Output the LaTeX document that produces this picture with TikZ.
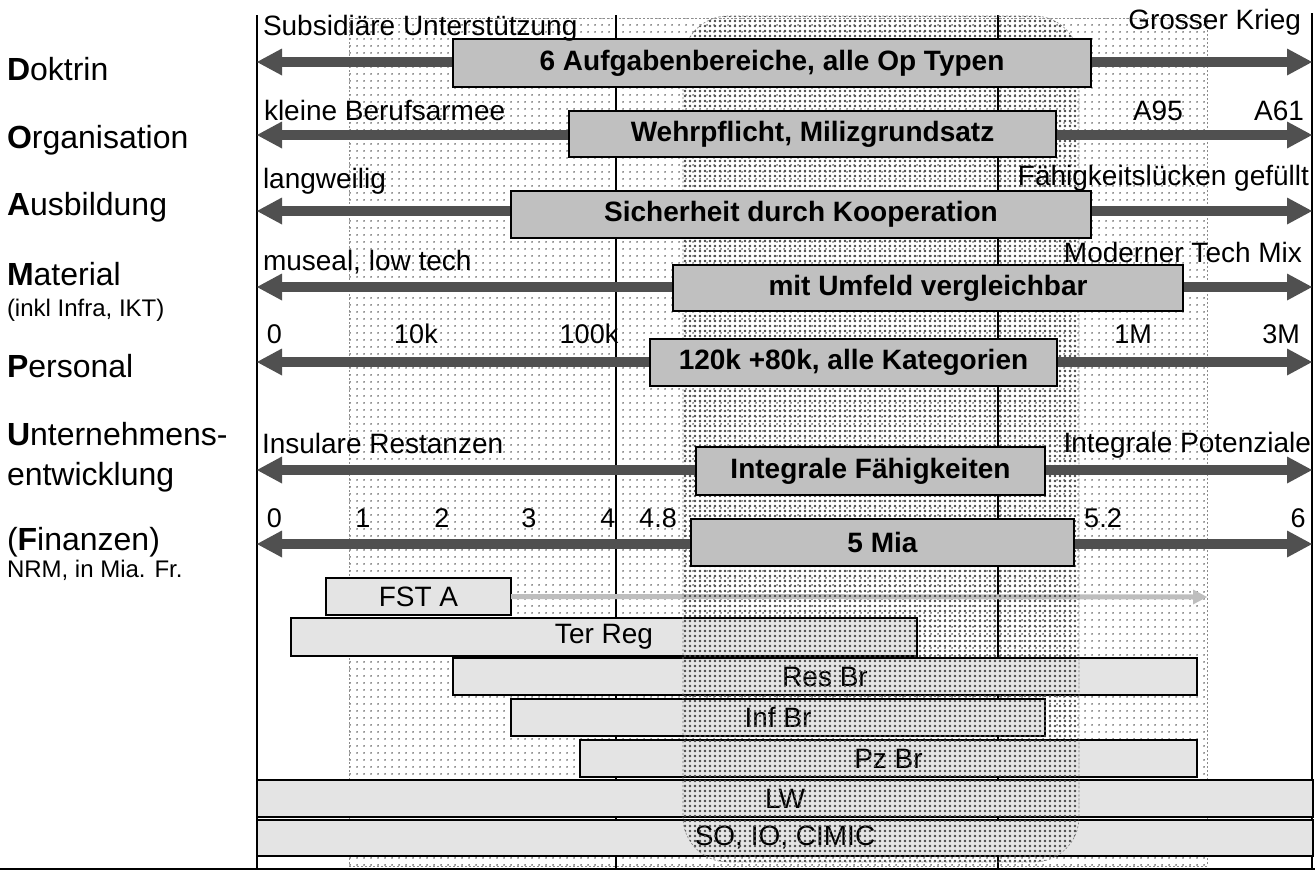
\documentclass[tikz,border=0pt]{standalone}
\usepackage{fontspec}
\setmainfont{Liberation Sans}
\usetikzlibrary{arrows.meta,patterns.meta}
\definecolor{arrowgray}{HTML}{505050}
\definecolor{boxgray}{HTML}{C0C0C0}
\definecolor{barfill}{HTML}{E4E4E4}
\definecolor{faintarrow}{HTML}{BEBEBE}
\newcommand{\sidefont}{\fontsize{32pt}{36pt}\selectfont}
\newcommand{\subfont}{\fontsize{24pt}{28pt}\selectfont}
\newcommand{\labfont}{\fontsize{28pt}{32pt}\selectfont}
\newcommand{\numfont}{\fontsize{27pt}{30pt}\selectfont}
\newcommand{\boxfont}{\fontsize{28pt}{32pt}\selectfont\bfseries}
\begin{document}
\begin{tikzpicture}[x=1pt,y=-1pt,
  every node/.style={inner sep=0pt, outer sep=0pt},
  sidelab/.style={anchor=base west, font=\sidefont},
  sublab/.style={anchor=base west, font=\subfont},
  endlab/.style={font=\labfont},
  numlab/.style={anchor=base, font=\numfont},
  upbox/.style={draw=black, line width=2pt, fill=boxgray, font=\boxfont, anchor=north west},
  bar/.style={draw=black, line width=1.8pt, fill=barfill, font=\labfont, anchor=north west},
  bigarrow/.style={draw=arrowgray, line width=10pt, {Triangle[length=25pt,width=27pt,line width=0pt]}-{Triangle[length=25pt,width=27pt,line width=0pt]}},
  fstarrow/.style={draw=faintarrow, line width=5pt, -{Triangle[length=14pt,width=15pt,line width=0pt]}},
  frameline/.style={line width=1.5pt, draw=black},
  lightzone/.style={pattern={Dots[distance=6.5pt,radius=1.05pt]}, pattern color=black!60, draw=black!45, line width=0.6pt, dash pattern=on 2pt off 2pt},
  densezone/.style={pattern={Dots[distance=5pt,radius=1.35pt]}, pattern color=black!72, draw=black!50, line width=0.6pt, dash pattern=on 2pt off 2pt, rounded corners=45pt},
]
\useasboundingbox (0,0) rectangle (1315,871);

% background zones
\path[lightzone] (349,18) rectangle (1207,866);

% frame lines
\coordinate (ltop) at (257,15);  \coordinate (lbot) at (257,869);
\coordinate (rtop) at (1312,13); \coordinate (rbot) at (1312,869);
\coordinate (mtop) at (616,15);  \coordinate (mbot) at (616,869);
\coordinate (ntop) at (998,15);  \coordinate (nbot) at (998,869);
\coordinate (bl) at (0,869);     \coordinate (br) at (1315,869);
\draw[frameline] (ltop) -- (lbot);
\draw[frameline] (rtop) -- (rbot);
\draw[frameline] (mtop) -- (mbot);
\draw[frameline] (ntop) -- (nbot);
\draw[frameline] (bl) -- (br);

% lower bars
\node[bar, minimum width=185pt, minimum height=37pt] (fst) at (326,578) {FST A};
\node[bar, minimum width=626pt, minimum height=38pt] (ter) at (291,618) {Ter Reg};
\node[bar, minimum width=744pt, minimum height=37pt] (res) at (453,658) {Res Br};
\node[bar, minimum width=534pt, minimum height=37pt] (inf) at (511,699) {Inf Br};
\node[bar, minimum width=617pt, minimum height=37pt] (pz) at (580,740) {Pz Br};
\node[bar, minimum width=1056pt, minimum height=37pt] (lw) at (257,780) {LW};
\node[bar, minimum width=1056pt, minimum height=36pt] (so) at (257,820) {SO, IO, CIMIC};
\coordinate (fstend) at (1207,597);
\draw[fstarrow] (fst.east) -- (fstend);

% dense zone
\path[densezone] (683,16) rectangle (1079,862);

% arrows
\coordinate (dl) at (257,62);  \coordinate (dr) at (1312,62);
\coordinate (ol) at (257,135); \coordinate (or) at (1312,135);
\coordinate (al) at (257,211); \coordinate (ar) at (1312,211);
\coordinate (ml) at (257,287); \coordinate (mr) at (1312,287);
\coordinate (pl) at (257,362); \coordinate (pr) at (1312,362);
\coordinate (ul) at (257,470); \coordinate (ur) at (1312,470);
\coordinate (fl) at (257,544); \coordinate (fr) at (1312,544);
\draw[bigarrow] (dl) -- (dr);
\draw[bigarrow] (ol) -- (or);
\draw[bigarrow] (al) -- (ar);
\draw[bigarrow] (ml) -- (mr);
\draw[bigarrow] (pl) -- (pr);
\draw[bigarrow] (ul) -- (ur);
\draw[bigarrow] (fl) -- (fr);

% upper boxes
\node[upbox, minimum width=638pt, minimum height=48pt] (b1) at (453,39) {6 Aufgabenbereiche, alle Op Typen};
\node[upbox, minimum width=487pt, minimum height=46pt] (b2) at (569,111) {Wehrpflicht, Milizgrundsatz};
\node[upbox, minimum width=580pt, minimum height=47pt] (b3) at (511,191) {Sicherheit durch Kooperation};
\node[upbox, minimum width=510pt, minimum height=46pt] (b4) at (673,265) {mit Umfeld vergleichbar};
\node[upbox, minimum width=407pt, minimum height=47pt] (b5) at (650,339) {120k +80k, alle Kategorien};
\node[upbox, minimum width=349pt, minimum height=48pt] (b6) at (696,447) {Integrale Fähigkeiten};
\node[upbox, minimum width=383pt, minimum height=47pt] (b7) at (691,519) {5 Mia};

% left labels
\node[sidelab] (sd) at (7,80) {\textbf{D}oktrin};
\node[sidelab] (so2) at (7,148) {\textbf{O}rganisation};
\node[sidelab] (sa) at (7,215) {\textbf{A}usbildung};
\node[sidelab] (sm) at (7,285) {\textbf{M}aterial};
\node[sublab] (smx) at (7,316) {(inkl Infra, IKT)};
\node[sidelab] (sp) at (7,377) {\textbf{P}ersonal};
\node[sidelab] (su) at (7,445) {\textbf{U}nternehmens-};
\node[sidelab] (sux) at (7,485) {entwicklung};
\node[sidelab] (sf) at (7,550) {(\textbf{F}inanzen)};
\node[sublab] (sfx) at (7,577) {NRM, in Mia. Fr.};

% end labels
\node[endlab, anchor=base west] (dlo) at (263,35) {Subsidiäre Unterstützung};
\node[endlab, anchor=base east] (dhi) at (1301,29) {Grosser Krieg};
\node[endlab, anchor=base west] (olo) at (264,120) {kleine Berufsarmee};
\node[endlab, anchor=base west] (a95) at (1133,120) {A95};
\node[endlab, anchor=base east] (a61) at (1304,120) {A61};
\node[endlab, anchor=base west] (alo) at (263,188) {langweilig};
\node[endlab, anchor=base east] (ahi) at (1309,185) {Fähigkeitslücken gefüllt};
\node[endlab, anchor=base west] (mlo) at (263,270) {museal, low tech};
\node[endlab, anchor=base east] (mhi) at (1302,262) {Moderner Tech Mix};
\node[numlab] (p0) at (274.5,343) {0};
\node[numlab] (p1) at (416,343) {10k};
\node[numlab] (p2) at (589,343) {100k};
\node[numlab] (p3) at (1133,343) {1M};
\node[numlab] (p4) at (1281,343) {3M};
\node[endlab, anchor=base west] (ulo) at (262,453) {Insulare Restanzen};
\node[endlab, anchor=base east] (uhi) at (1311,452) {Integrale Potenziale};
\node[numlab] (f0) at (274.5,527) {0};
\node[numlab] (f1) at (363,527) {1};
\node[numlab] (f2) at (442,527) {2};
\node[numlab] (f3) at (529,527) {3};
\node[numlab] (f4) at (608,527) {4};
\node[numlab] (f5) at (658,527) {4.8};
\node[numlab] (f6) at (1103,527) {5.2};
\node[numlab] (f7) at (1298,527) {6};
\end{tikzpicture}
\end{document}
